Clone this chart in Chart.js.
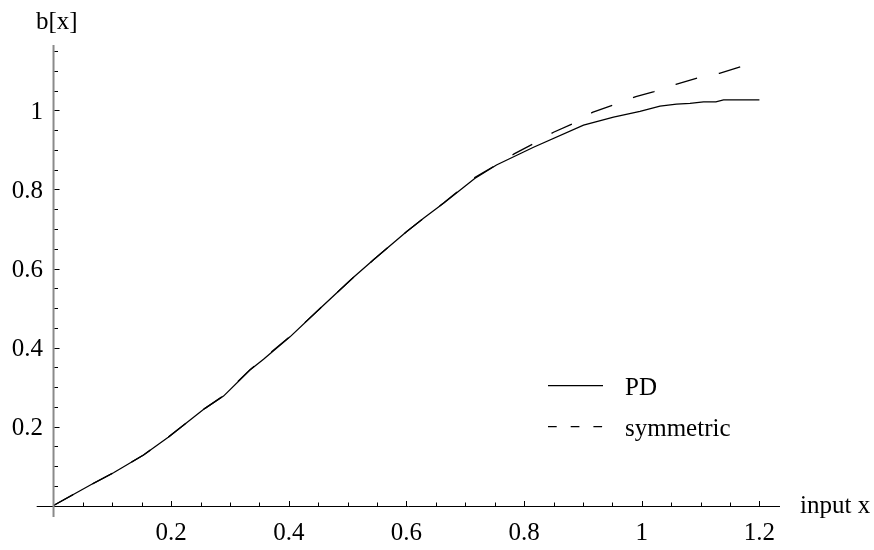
<!DOCTYPE html>
<html>
<head>
<meta charset="utf-8">
<title>b[x]</title>
<script src="https://cdn.jsdelivr.net/npm/chart.js@4"></script>
<style>
  body { margin: 0; background: #fff; }
  canvas { display: block; }
</style>
</head>
<body>
<canvas id="myChart" width="874" height="550"></canvas>
<script>
// Werte
const pdX = [0, 0.065, 0.102, 0.153, 0.195, 0.2575, 0.289, 0.334, 0.357, 0.402, 0.453, 0.51, 0.544, 0.6, 0.629, 0.663, 0.716, 0.753, 0.816, 0.901, 0.952, 0.997, 1.031, 1.059, 1.082, 1.105, 1.126, 1.139, 1.2];
const pdY = [0, 0.054, 0.083, 0.128, 0.173, 0.246, 0.277, 0.343, 0.37, 0.427, 0.499, 0.578, 0.622, 0.693, 0.727, 0.765, 0.828, 0.862, 0.907, 0.963, 0.983, 0.998, 1.011, 1.016, 1.018, 1.022, 1.022, 1.027, 1.027];

const symX = [0, 0.065, 0.102, 0.153, 0.195, 0.2575, 0.289, 0.334, 0.357, 0.402, 0.453, 0.51, 0.544, 0.6, 0.629, 0.663, 0.716, 0.75, 0.783, 0.816, 0.85, 0.882, 0.916, 0.952, 0.99, 1.021, 1.058, 1.096, 1.132, 1.169, 1.2];
const symY = [0, 0.054, 0.083, 0.128, 0.173, 0.246, 0.278, 0.344, 0.372, 0.428, 0.499, 0.578, 0.622, 0.693, 0.727, 0.766, 0.83, 0.86, 0.89, 0.916, 0.945, 0.966, 0.995, 1.014, 1.035, 1.048, 1.066, 1.083, 1.094, 1.111, 1.125];

const seriesNames = ["PD", "symmetric"];

// Achsenbeschriftung
const xTickValues = [0.2, 0.4, 0.6, 0.8, 1, 1.2];
const xTickLabels = ["0.2", "0.4", "0.6", "0.8", "1", "1.2"];
const yTickValues = [0.2, 0.4, 0.6, 0.8, 1];
const yTickLabels = ["0.2", "0.4", "0.6", "0.8", "1"];
const xTitle = "input x";
const yTitle = "b[x]";

function punkte(xs, ys) {
  let arr = [];
  for (let i = 0; i < xs.length; i++) {
    arr.push({ x: xs[i], y: ys[i] });
  }
  return arr;
}

const FONT = "25px 'Liberation Serif', 'Times New Roman', serif";

// Achsen im Mathematica-Stil selbst zeichnen (Kreuz im Ursprung)
const achsenPlugin = {
  id: "achsen",
  afterDatasetsDraw(chart) {
    const ctx = chart.ctx;
    const xs = chart.scales.x;
    const ys = chart.scales.y;
    const area = chart.chartArea;
    const x0 = xs.getPixelForValue(0);
    const y0 = ys.getPixelForValue(0);

    ctx.save();
    // x-Achse
    ctx.strokeStyle = "#000";
    ctx.lineWidth = 1;
    ctx.beginPath();
    ctx.moveTo(area.left, Math.round(y0) + 0.5);
    ctx.lineTo(area.right, Math.round(y0) + 0.5);
    ctx.stroke();

    // y-Achse
    ctx.strokeStyle = "#8a8a8a";
    ctx.lineWidth = 2;
    ctx.beginPath();
    ctx.moveTo(x0, area.top);
    ctx.lineTo(x0, area.bottom);
    ctx.stroke();

    // Striche x
    ctx.strokeStyle = "#000";
    ctx.lineWidth = 1;
    for (let k = 1; k <= 24; k++) {
      let v = k * 0.05;
      let px = Math.round(xs.getPixelForValue(v)) + 0.5;
      let len = k % 4 == 0 ? 5 : 3.5;
      ctx.beginPath();
      ctx.moveTo(px, Math.round(y0));
      ctx.lineTo(px, Math.round(y0) - len);
      ctx.stroke();
    }
    // Striche y
    for (let k = 1; k <= 23; k++) {
      let v = k * 0.05;
      let py = Math.round(ys.getPixelForValue(v)) + 0.5;
      let len = k % 4 == 0 ? 5 : 3.5;
      ctx.beginPath();
      ctx.moveTo(x0 + 1, py);
      ctx.lineTo(x0 + 1 + len, py);
      ctx.stroke();
    }

    // Beschriftung
    ctx.fillStyle = "#000";
    ctx.font = FONT;
    ctx.textBaseline = "alphabetic";
    ctx.textAlign = "center";
    for (let i = 0; i < xTickValues.length; i++) {
      ctx.fillText(xTickLabels[i], xs.getPixelForValue(xTickValues[i]), y0 + 34);
    }
    ctx.textAlign = "right";
    for (let i = 0; i < yTickValues.length; i++) {
      ctx.fillText(yTickLabels[i], x0 - 10.5, ys.getPixelForValue(yTickValues[i]) + 8.5);
    }
    ctx.textAlign = "left";
    ctx.fillText(xTitle, 800, 513);
    ctx.fillText(yTitle, 36, 29);

    // Legende
    const ds = chart.data.datasets;
    const legY = [385.7, 426.7];
    for (let i = 0; i < ds.length; i++) {
      ctx.strokeStyle = "#000";
      ctx.lineWidth = 1.2;
      ctx.setLineDash(i == 1 ? [8.7, 14] : []);
      ctx.beginPath();
      ctx.moveTo(548, legY[i]);
      ctx.lineTo(603, legY[i]);
      ctx.stroke();
      ctx.setLineDash([]);
      ctx.fillText(ds[i].label, 625, legY[i] + 9);
    }
    ctx.restore();
  },
};

const lineChart = document.getElementById("myChart");

let myChart = new Chart(lineChart, {
  type: "line",
  data: {
    datasets: [
      {
        label: seriesNames[0],
        data: punkte(pdX, pdY),
        borderColor: "#000",
        borderWidth: 1.3,
        pointRadius: 0,
        tension: 0,
        fill: false,
      },
      {
        label: seriesNames[1],
        data: punkte(symX, symY),
        borderColor: "#000",
        borderWidth: 1.3,
        borderDash: [22.4, 22.2],
        pointRadius: 0,
        tension: 0,
        fill: false,
      },
    ],
  },
  options: {
    responsive: false,
    animation: false,
    layout: { padding: { left: 36.7, top: 44.9, right: 94, bottom: 33 } },
    plugins: { legend: { display: false }, tooltip: { enabled: false } },
    scales: {
      x: { type: "linear", min: -0.0286, max: 1.235, display: false },
      y: { type: "linear", min: -0.029, max: 1.166, display: false },
    },
  },
  plugins: [achsenPlugin],
});
</script>
</body>
</html>
